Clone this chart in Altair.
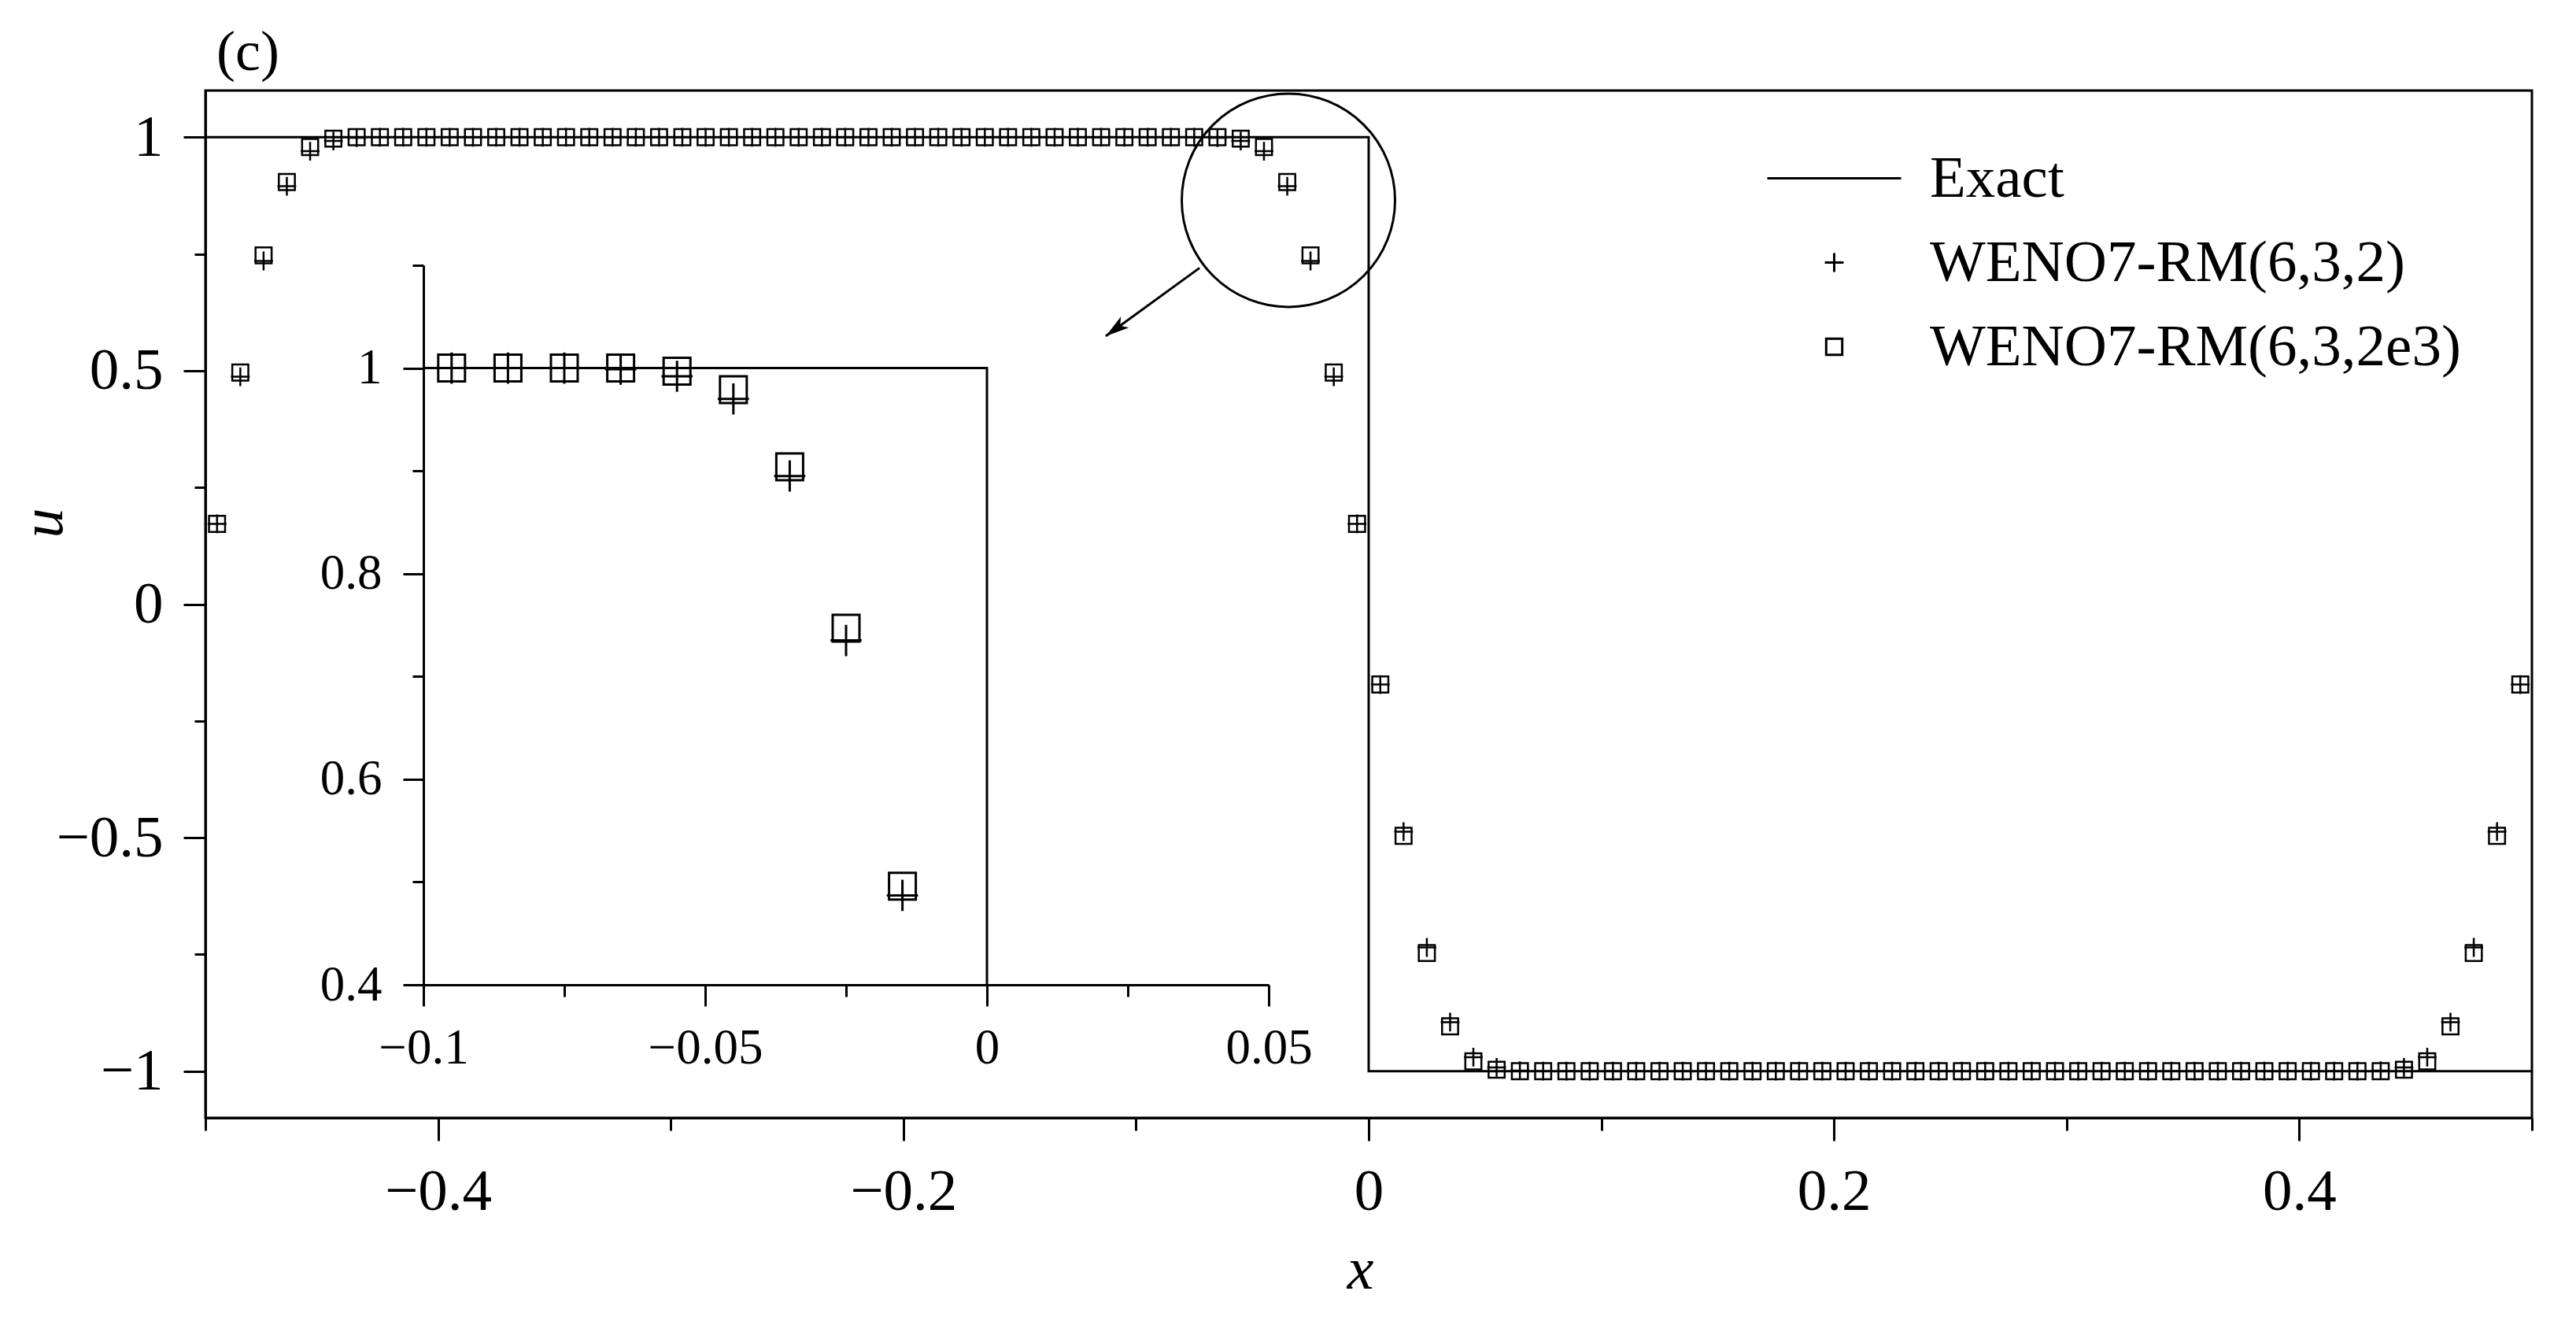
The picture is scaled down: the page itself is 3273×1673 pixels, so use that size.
import altair as alt
import pandas as pd

# ---------------- data ----------------
x_cells = [
    -0.495, -0.485, -0.475, -0.465, -0.455, -0.445, -0.435, -0.425, -0.415, -0.405,
    -0.395, -0.385, -0.375, -0.365, -0.355, -0.345, -0.335, -0.325, -0.315, -0.305,
    -0.295, -0.285, -0.275, -0.265, -0.255, -0.245, -0.235, -0.225, -0.215, -0.205,
    -0.195, -0.185, -0.175, -0.165, -0.155, -0.145, -0.135, -0.125, -0.115, -0.105,
    -0.095, -0.085, -0.075, -0.065, -0.055, -0.045, -0.035, -0.025, -0.015, -0.005,
    0.005, 0.015, 0.025, 0.035, 0.045, 0.055, 0.065, 0.075, 0.085, 0.095,
    0.105, 0.115, 0.125, 0.135, 0.145, 0.155, 0.165, 0.175, 0.185, 0.195,
    0.205, 0.215, 0.225, 0.235, 0.245, 0.255, 0.265, 0.275, 0.285, 0.295,
    0.305, 0.315, 0.325, 0.335, 0.345, 0.355, 0.365, 0.375, 0.385, 0.395,
    0.405, 0.415, 0.425, 0.435, 0.445, 0.455, 0.465, 0.475, 0.485, 0.495,
]

u_rm632 = [  # WENO7-RM(6,3,2)  (+ markers)
    0.172, 0.487, 0.735, 0.895, 0.970, 0.992, 0.999, 1, 1, 1,
    1, 1, 1, 1, 1, 1, 1, 1, 1, 1,
    1, 1, 1, 1, 1, 1, 1, 1, 1, 1,
    1, 1, 1, 1, 1, 1, 1, 1, 1, 1,
    1, 1, 1, 0.999, 0.992, 0.970, 0.895, 0.735, 0.487, 0.172,
    -0.172, -0.487, -0.735, -0.895, -0.970, -0.992, -0.999, -1, -1, -1,
    -1, -1, -1, -1, -1, -1, -1, -1, -1, -1,
    -1, -1, -1, -1, -1, -1, -1, -1, -1, -1,
    -1, -1, -1, -1, -1, -1, -1, -1, -1, -1,
    -1, -1, -1, -0.999, -0.992, -0.970, -0.895, -0.735, -0.487, -0.172,
]

u_rm632e3 = [  # WENO7-RM(6,3,2e3)  (square markers)
    0.172, 0.496, 0.747, 0.904, 0.979, 0.997, 1, 1, 1, 1,
    1, 1, 1, 1, 1, 1, 1, 1, 1, 1,
    1, 1, 1, 1, 1, 1, 1, 1, 1, 1,
    1, 1, 1, 1, 1, 1, 1, 1, 1, 1,
    1, 1, 1, 1, 0.997, 0.979, 0.904, 0.747, 0.496, 0.172,
    -0.172, -0.496, -0.747, -0.904, -0.979, -0.997, -1, -1, -1, -1,
    -1, -1, -1, -1, -1, -1, -1, -1, -1, -1,
    -1, -1, -1, -1, -1, -1, -1, -1, -1, -1,
    -1, -1, -1, -1, -1, -1, -1, -1, -1, -1,
    -1, -1, -1, -1, -0.997, -0.979, -0.904, -0.747, -0.496, -0.172,
]

exact_x = [-0.5, 0.0, 0.0, 0.5]
exact_u = [1.0, 1.0, -1.0, -1.0]
inset_exact_x = [-0.1, 0.0, 0.0]
inset_exact_u = [1.0, 1.0, 0.4]

series_names = ["Exact", "WENO7-RM(6,3,2)", "WENO7-RM(6,3,2e3)"]

main_x_major = [-0.4, -0.2, 0, 0.2, 0.4]
main_x_minor = [-0.5, -0.3, -0.1, 0.1, 0.3, 0.5]
main_y_major = [-1, -0.5, 0, 0.5, 1]
main_y_minor = [-0.75, -0.25, 0.25, 0.75]
ins_x_major = [-0.1, -0.05, 0, 0.05]
ins_x_minor = [-0.075, -0.025, 0.025]
ins_y_major = [0.4, 0.6, 0.8, 1]
ins_y_minor = [0.5, 0.7, 0.9, 1.1]

# annotation: zoom circle and arrow (data coordinates of main plot)
circle_x, circle_u = [-0.0345], [0.865]
arrow_x1, arrow_u1 = [-0.0727], [0.720]
arrow_x2, arrow_u2 = [-0.113], [0.574]

# ---------------- layout ----------------
W, H = 2956, 1305
FONT = "Liberation Serif"
INS_X_RANGE = [277, 1351]
INS_Y_RANGE = [1136, 222]

df_pts = pd.DataFrame({
    "x": x_cells + x_cells,
    "u": u_rm632 + u_rm632e3,
    "series": [series_names[1]] * len(x_cells) + [series_names[2]] * len(x_cells),
})
df_exact = pd.DataFrame({"x": exact_x, "u": exact_u, "o": list(range(len(exact_x)))})
df_inset_exact = pd.DataFrame({"x": inset_exact_x, "u": inset_exact_u,
                               "o": list(range(len(inset_exact_x)))})
df_circle = pd.DataFrame({"x": circle_x, "u": circle_u})
df_arrow = pd.DataFrame({"x": arrow_x1, "u": arrow_u1, "x2": arrow_x2, "u2": arrow_u2})


def xs_main():
    return alt.Scale(domain=[-0.5, 0.5], nice=False, zero=False)


def ys_main():
    return alt.Scale(domain=[-1.1, 1.1], nice=False, zero=False)


def xs_ins():
    return alt.Scale(domain=[-0.1, 0.05], range=INS_X_RANGE, nice=False, zero=False)


def ys_ins():
    return alt.Scale(domain=[0.4, 1.1], range=INS_Y_RANGE, nice=False, zero=False)


common_tick = dict(tickColor="black", tickWidth=3, grid=False, labelColor="black",
                   labelFont=FONT, domainColor="black", domainWidth=3)

ax_x_main = alt.Axis(orient="bottom", values=main_x_major, format="~g", tickSize=29,
                     labelFontSize=75, labelPadding=87, labelBaseline="alphabetic",
                     labelFlush=False, labelOverlap=False, domain=True,
                     title="x", titleFont=FONT, titleFontSize=76, titleFontStyle="italic",
                     titleFontWeight="normal", titleColor="black", titleX=1467, titleY=216,
                     titleBaseline="alphabetic", titleAlign="center", **common_tick)
ax_y_main = alt.Axis(orient="left", values=main_y_major, format="~g", tickSize=28,
                     labelFontSize=75, labelPadding=26, labelBaseline="middle",
                     labelOverlap=False, domain=True,
                     title="u", titleFont=FONT, titleFontSize=76, titleFontStyle="italic",
                     titleFontWeight="normal", titleColor="black", titleX=-183, titleY=549,
                     titleAngle=270, titleBaseline="alphabetic", titleAlign="center",
                     **common_tick)
ax_x_main_minor = alt.Axis(orient="bottom", values=main_x_minor, tickSize=16, labels=False,
                           domain=False, title=None, tickColor="black", tickWidth=3, grid=False)
ax_y_main_minor = alt.Axis(orient="left", values=main_y_minor, tickSize=14, labels=False,
                           domain=False, title=None, tickColor="black", tickWidth=3, grid=False)

ax_x_ins = alt.Axis(orient="bottom", offset=INS_Y_RANGE[0] - H, values=ins_x_major, format="~g",
                    tickSize=27, labelFontSize=63, labelPadding=72, labelBaseline="alphabetic",
                    labelFlush=False, labelOverlap=False, domain=True, title=None, **common_tick)
ax_y_ins = alt.Axis(orient="left", offset=-INS_X_RANGE[0], values=ins_y_major, format="~g",
                    tickSize=26, labelFontSize=63, labelPadding=27, labelBaseline="middle",
                    labelOverlap=False, domain=True, title=None, **common_tick)
ax_x_ins_minor = alt.Axis(orient="bottom", offset=INS_Y_RANGE[0] - H, values=ins_x_minor,
                          tickSize=15, labels=False, domain=False, title=None,
                          tickColor="black", tickWidth=3, grid=False)
ax_y_ins_minor = alt.Axis(orient="left", offset=-INS_X_RANGE[0], values=ins_y_minor,
                          tickSize=14, labels=False, domain=False, title=None,
                          tickColor="black", tickWidth=3, grid=False)

shape_scale = alt.Scale(
    domain=series_names,
    range=[
        "M-3,0H3",
        "M-0.42,0H0.42M0,-0.42V0.42",
        "M-0.36,-0.36H0.36V0.36H-0.36Z",
    ],
)

legend = alt.Legend(title=None, orient="none", legendX=2032, legendY=74, direction="vertical",
                    labelFont=FONT, labelFontSize=75, labelColor="black", labelOffset=84,
                    labelLimit=0, symbolSize=3211, symbolStrokeWidth=3,
                    symbolStrokeColor="black", symbolFillColor="transparent",
                    rowPadding=31, padding=0)

MAIN_SIZE = 3211
INSET_SIZE = 8930

exact_main = alt.Chart(df_exact).mark_line(color="black", strokeWidth=3).encode(
    x=alt.X("x:Q", scale=xs_main(), axis=ax_x_main),
    y=alt.Y("u:Q", scale=ys_main(), axis=ax_y_main),
    order="o:Q",
)

pts_main = alt.Chart(df_pts).mark_point(filled=False, color="black", strokeWidth=2.5,
                                        size=MAIN_SIZE, opacity=1).encode(
    x=alt.X("x:Q", scale=xs_main(), axis=ax_x_main_minor),
    y=alt.Y("u:Q", scale=ys_main(), axis=ax_y_main_minor),
    shape=alt.Shape("series:N", scale=shape_scale, legend=legend),
)

circle = alt.Chart(df_circle).mark_point(shape="circle", filled=False, color="black",
                                         strokeWidth=3, size=73441, opacity=1).encode(
    x=alt.X("x:Q", scale=xs_main(), axis=None),
    y=alt.Y("u:Q", scale=ys_main(), axis=None),
)

arrow_line = alt.Chart(df_arrow).mark_rule(color="black", strokeWidth=3).encode(
    x=alt.X("x:Q", scale=xs_main(), axis=None),
    y=alt.Y("u:Q", scale=ys_main(), axis=None),
    x2="x2:Q",
    y2="u2:Q",
)

arrow_head = alt.Chart(df_arrow).mark_point(
    shape="M0,0L-0.4,1.4L0,1.05L0.4,1.4Z", filled=True, color="black", size=1849,
    angle=233.8, opacity=1, strokeWidth=0,
).encode(
    x=alt.X("x2:Q", scale=xs_main(), axis=None),
    y=alt.Y("u2:Q", scale=ys_main(), axis=None),
)

exact_inset = alt.Chart(df_inset_exact).mark_line(color="black", strokeWidth=3).encode(
    x=alt.X("x:Q", scale=xs_ins(), axis=ax_x_ins),
    y=alt.Y("u:Q", scale=ys_ins(), axis=ax_y_ins),
    order="o:Q",
)

pts_inset = alt.Chart(df_pts).transform_filter(
    "datum.x >= -0.1 && datum.x < -0.01"
).mark_point(filled=False, color="black", strokeWidth=3, size=INSET_SIZE, opacity=1).encode(
    x=alt.X("x:Q", scale=xs_ins(), axis=ax_x_ins_minor),
    y=alt.Y("u:Q", scale=ys_ins(), axis=ax_y_ins_minor),
    shape=alt.Shape("series:N", scale=shape_scale, legend=None),
)

chart = alt.layer(
    exact_main, pts_main, circle, arrow_line, arrow_head, exact_inset, pts_inset
).resolve_scale(
    x="independent", y="independent"
).properties(
    width=W,
    height=H,
    background="white",
    autosize=alt.AutoSizeParams(type="none"),
    padding={"left": 253, "top": 107, "right": 40, "bottom": 246},
    title=alt.TitleParams(text="(c)", anchor="start", frame="group", dx=14, dy=69, offset=21,
                          baseline="alphabetic", fontSize=72, font=FONT,
                          fontWeight="normal", color="black"),
).configure_view(
    stroke="black", strokeWidth=3, strokeOpacity=1
)

chart.save("out.html", embed_options={"renderer": "svg", "actions": False})
